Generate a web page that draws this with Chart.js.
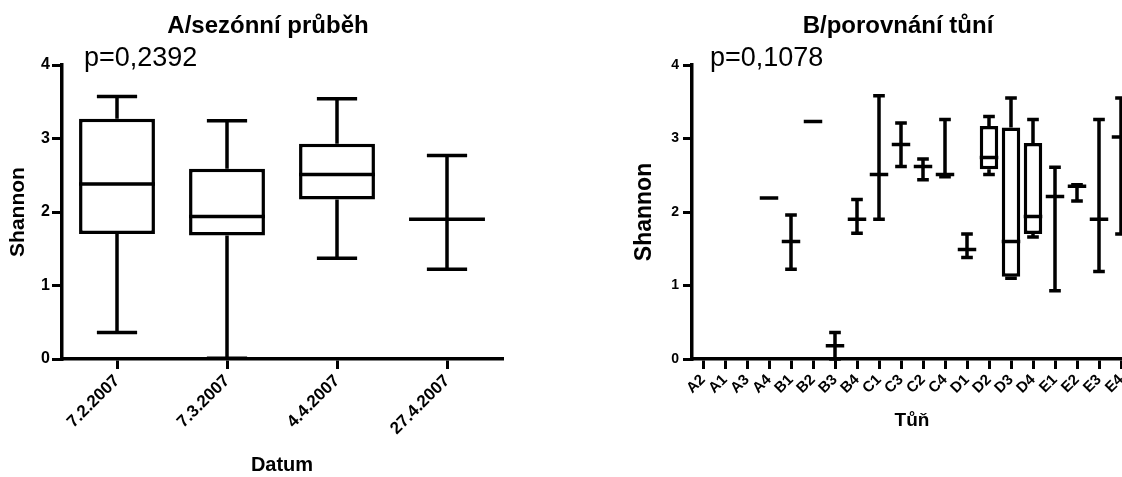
<!DOCTYPE html>
<html>
<head>
<meta charset="utf-8">
<script src="https://cdn.jsdelivr.net/npm/chart.js@4.4.1/dist/chart.umd.min.js"></script>
<style>
  body { margin: 0; width: 1122px; height: 477px; overflow: hidden; position: relative; background: #fff; }
  canvas { position: absolute; top: 0; }
  #chartA { left: 0; }
  #chartB { left: 620px; }
</style>
</head>
<body>
<canvas id="chartA" width="560" height="477"></canvas>
<canvas id="chartB" width="560" height="477"></canvas>
<script>
// A/sezónní průběh
const datesA = ["7.2.2007", "7.3.2007", "4.4.2007", "27.4.2007"];
const minA = [0.36, 0.01, 1.37, 1.22];
const q1A = [1.70, 1.68, 2.17, 1.90];
const medA = [2.38, 1.94, 2.51, 1.90];
const q3A = [3.27, 2.59, 2.93, 1.90];
const maxA = [3.57, 3.24, 3.54, 2.77];

// B/porovnání tůní
const poolsB = ["A2", "A1", "A3", "A4", "B1", "B2", "B3", "B4", "C1", "C3", "C2", "C4", "D1", "D2", "D3", "D4", "E1", "E2", "E3", "E4"];
const minB = [null, null, null, 2.19, 1.22, 3.23, 0.00, 1.71, 1.90, 2.62, 2.44, 2.48, 1.38, 2.51, 1.10, 1.66, 0.93, 2.15, 1.19, 1.70];
const q1B = [null, null, null, 2.19, 1.60, 3.23, 0.18, 1.90, 2.51, 2.92, 2.62, 2.51, 1.49, 2.58, 1.12, 1.70, 2.21, 2.35, 1.90, 3.02];
const medB = [null, null, null, 2.19, 1.60, 3.23, 0.18, 1.90, 2.51, 2.92, 2.62, 2.51, 1.49, 2.74, 1.60, 1.94, 2.21, 2.35, 1.90, 3.02];
const q3B = [null, null, null, 2.19, 1.60, 3.23, 0.18, 1.90, 2.51, 2.92, 2.62, 2.51, 1.49, 3.17, 3.15, 2.94, 2.21, 2.35, 1.90, 3.02];
const maxB = [null, null, null, 2.19, 1.96, 3.23, 0.36, 2.17, 3.58, 3.21, 2.72, 3.26, 1.70, 3.30, 3.55, 3.26, 2.61, 2.37, 3.26, 3.55];

const yTicks = [0, 1, 2, 3, 4];

Chart.defaults.font.family = "'Liberation Sans', Arial, sans-serif";
Chart.defaults.color = "#000";

const LW = 3.5;

// whiskers + median lines, drawn on top of the floating bars (boxes)
function whiskerPlugin(stats, capRatio) {
    return {
        id: "whiskers",
        afterDatasetsDraw(chart) {
            const ctx = chart.ctx;
            const y = chart.scales.y;
            const bars = chart.getDatasetMeta(0).data;
            ctx.save();
            ctx.strokeStyle = "#000";
            ctx.lineWidth = LW;
            bars.forEach((bar, i) => {
                if (stats.med[i] == null) return;
                const x = bar.x;
                const w = bar.width;
                const cw = w * capRatio;
                const pMin = y.getPixelForValue(stats.min[i]);
                const pQ1 = y.getPixelForValue(stats.q1[i]);
                const pMed = y.getPixelForValue(stats.med[i]);
                const pQ3 = y.getPixelForValue(stats.q3[i]);
                const pMax = y.getPixelForValue(stats.max[i]);
                ctx.beginPath();
                ctx.moveTo(x, pQ3);
                ctx.lineTo(x, pMax);
                ctx.moveTo(x - cw / 2, pMax);
                ctx.lineTo(x + cw / 2, pMax);
                ctx.moveTo(x, pQ1);
                ctx.lineTo(x, pMin);
                ctx.moveTo(x - cw / 2, pMin);
                ctx.lineTo(x + cw / 2, pMin);
                ctx.moveTo(x - w / 2, pMed);
                ctx.lineTo(x + w / 2, pMed);
                ctx.stroke();
            });
            ctx.restore();
        },
    };
}

function headerPlugin(title, titleX, pText, pX) {
    return {
        id: "header",
        afterDraw(chart) {
            const ctx = chart.ctx;
            ctx.save();
            ctx.fillStyle = "#000";
            ctx.textBaseline = "alphabetic";
            ctx.textAlign = "center";
            ctx.font = "bold 24px 'Liberation Sans', Arial, sans-serif";
            ctx.fillText(title, titleX, 33);
            ctx.textAlign = "left";
            ctx.font = "27px 'Liberation Sans', Arial, sans-serif";
            ctx.fillText(pText, pX, 66);
            ctx.restore();
        },
    };
}

function makeChart(id, o) {
    const boxes = o.q1.map((v, i) => (v == null ? null : [o.q1[i], o.q3[i]]));
    return new Chart(document.getElementById(id), {
        type: "bar",
        data: {
            labels: o.labels,
            datasets: [
                {
                    data: boxes,
                    backgroundColor: "#fff",
                    borderColor: "#000",
                    borderWidth: LW,
                    borderSkipped: false,
                    barPercentage: o.barPct,
                    categoryPercentage: 1,
                },
            ],
        },
        options: {
            responsive: false,
            animation: false,
            layout: {
                padding: { top: 65, right: o.padRight, left: 0, bottom: 0 },
            },
            plugins: {
                legend: { display: false },
                tooltip: { enabled: false },
            },
            scales: {
                x: {
                    offset: true,
                    grid: {
                        offset: false,
                        drawOnChartArea: false,
                        tickLength: 10,
                        color: "#000",
                        lineWidth: 3,
                    },
                    border: { display: true, color: "#000", width: LW },
                    ticks: {
                        color: "#000",
                        minRotation: 45,
                        maxRotation: 45,
                        autoSkip: false,
                        padding: 2,
                        font: { size: o.xTickSize, weight: "bold" },
                    },
                    title: {
                        display: true,
                        text: o.xTitle,
                        color: "#000",
                        font: { size: o.xTitleSize, weight: "bold" },
                        padding: { top: 0, bottom: o.xTitlePad },
                    },
                    afterFit(scale) {
                        scale.height = 118;
                    },
                },
                y: {
                    min: 0,
                    max: 4,
                    afterBuildTicks(scale) {
                        scale.ticks = yTicks.map((v) => ({ value: v }));
                    },
                    grid: {
                        drawOnChartArea: false,
                        tickLength: o.yTickLen,
                        color: "#000",
                        lineWidth: 3,
                    },
                    border: { display: true, color: "#000", width: LW },
                    ticks: {
                        color: "#000",
                        padding: o.yTickPad,
                        font: { size: o.yTickSize, weight: "bold" },
                    },
                    title: {
                        display: true,
                        text: "Shannon",
                        color: "#000",
                        font: { size: o.yTitleSize, weight: "bold" },
                        padding: { top: o.yTitlePad, bottom: 0 },
                    },
                    afterFit(scale) {
                        scale.width = o.yWidth;
                    },
                },
            },
        },
        plugins: [
            whiskerPlugin({ min: o.min, q1: o.q1, med: o.med, q3: o.q3, max: o.max }, o.capRatio),
            headerPlugin(o.title, o.titleX, o.pText, o.pX),
        ],
    });
}

makeChart("chartA", {
    labels: datesA,
    min: minA, q1: q1A, med: medA, q3: q3A, max: maxA,
    barPct: 0.69, capRatio: 0.53, padRight: 58,
    xTitle: "Datum", xTitleSize: 20, xTitlePad: 0, xTickSize: 17,
    yWidth: 62, yTickLen: 10, yTickPad: 2, yTickSize: 16, yTitleSize: 21, yTitlePad: 6,
    title: "A/sezónní průběh", titleX: 268, pText: "p=0,2392", pX: 84,
});

makeChart("chartB", {
    labels: poolsB,
    min: minB, q1: q1B, med: medB, q3: q3B, max: maxB,
    barPct: 0.84, capRatio: 0.63, padRight: 48,
    xTitle: "Tůň", xTitleSize: 19, xTitlePad: 45, xTickSize: 15,
    yWidth: 72, yTickLen: 9, yTickPad: 4, yTickSize: 14, yTitleSize: 23, yTitlePad: 11,
    title: "B/porovnání tůní", titleX: 278, pText: "p=0,1078", pX: 90,
});
</script>
</body>
</html>
